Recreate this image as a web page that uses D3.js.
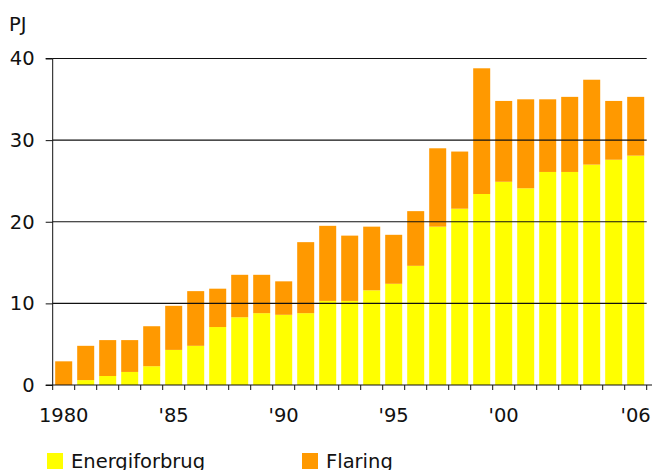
<!DOCTYPE html>
<html>
<head>
<meta charset="utf-8">
<script src="https://cdn.jsdelivr.net/npm/d3@7"></script>
<style>
  html, body { margin: 0; padding: 0; background: #fff; }
  svg { display: block; }
  text { font-family: "DejaVu Sans", Verdana, sans-serif; fill: #111; }
</style>
</head>
<body>
<svg id="chart" width="654" height="470"></svg>
<script>
const years = d3.range(1980, 2007);
const energiforbrug = [0, 0.6, 1.1, 1.6, 2.3, 4.3, 4.8, 7.1, 8.3, 8.8, 8.6, 8.8, 10.3, 10.3, 11.6, 12.4, 14.6, 19.4, 21.6, 23.4, 24.9, 24.1, 26.1, 26.1, 27.0, 27.6, 28.1];
const totals = [2.9, 4.8, 5.5, 5.5, 7.2, 9.7, 11.5, 11.8, 13.5, 13.5, 12.7, 17.5, 19.5, 18.3, 19.4, 18.4, 21.3, 29.0, 28.6, 38.8, 34.8, 35.0, 35.0, 35.3, 37.4, 34.8, 35.3];
const flaring = totals.map((t, i) => +(t - energiforbrug[i]).toFixed(1));
const yTicks = [0, 10, 20, 30, 40];
const xLabelYears = [1980, 1985, 1990, 1995, 2000, 2006];
const xLabelText = ["1980", "'85", "'90", "'95", "'00", "'06"];
const seriesNames = ["Energiforbrug", "Flaring"];
const colors = ["#ffff00", "#ff9900"];
const unitLabel = "PJ";

const svg = d3.select("#chart");
const pLeft = 52.7, pRight = 646.7, pTop = 58.5, pBottom = 385;

const x = d3.scaleBand().domain(years).range([pLeft, pRight]).paddingInner(0.227).paddingOuter(0.1135);
const y = d3.scaleLinear().domain([0, 40]).range([pBottom, pTop]);

const data = years.map((yr, i) => ({ year: yr, Energiforbrug: energiforbrug[i], Flaring: flaring[i] }));
const stack = d3.stack().keys(seriesNames)(data);

svg.append("g").selectAll("g").data(stack).join("g")
  .attr("fill", (d, i) => colors[i])
  .selectAll("rect").data(d => d).join("rect")
  .attr("x", d => x(d.data.year))
  .attr("width", x.bandwidth())
  .attr("y", d => y(d[1]))
  .attr("height", d => y(d[0]) - y(d[1]));

// gridlines on top of bars
svg.append("g").selectAll("line").data(yTicks.filter(t => t > 0)).join("line")
  .attr("x1", pLeft).attr("x2", pRight)
  .attr("y1", d => y(d)).attr("y2", d => y(d))
  .attr("stroke", "#111").attr("stroke-width", 1.1);

// y axis
const yAxis = svg.append("g").attr("transform", `translate(${pLeft},0)`)
  .call(d3.axisLeft(y).tickValues(yTicks).tickSize(7).tickPadding(11).tickFormat(d3.format("d")));
yAxis.select(".domain").attr("stroke", "#111").attr("d", `M-7,${y(40)}H0V${y(0)}`);
yAxis.selectAll(".tick line").attr("stroke", "#111");
yAxis.selectAll("text").style("font-size", "19.5px").attr("fill", "#111").style("font-family", '"DejaVu Sans", Verdana, sans-serif');

// x baseline and ticks
svg.append("line").attr("x1", pLeft - 7).attr("x2", 652).attr("y1", pBottom).attr("y2", pBottom)
  .attr("stroke", "#111").attr("stroke-width", 1.2);
const boundaries = years.map(yr => x(yr) - x.step() * x.paddingInner() / 2).concat([pRight]);
svg.append("g").selectAll("line").data(boundaries).join("line")
  .attr("x1", d => d).attr("x2", d => d)
  .attr("y1", pBottom).attr("y2", pBottom + 5)
  .attr("stroke", "#111").attr("stroke-width", 1);

svg.append("g").selectAll("text").data(xLabelYears).join("text")
  .attr("x", d => x(d) + x.bandwidth() / 2)
  .attr("y", 422)
  .attr("text-anchor", "middle")
  .style("font-size", "19.5px")
  .text((d, i) => xLabelText[i]);

svg.append("text").attr("x", 9).attr("y", 31).style("font-size", "19.5px").text(unitLabel);

// legend
const legendX = [47, 302];
const lg = svg.append("g").selectAll("g").data(seriesNames).join("g")
  .attr("transform", (d, i) => `translate(${legendX[i]},453)`);
lg.append("rect").attr("width", 16).attr("height", 16).attr("fill", (d, i) => colors[i]);
lg.append("text").attr("x", 24).attr("y", 15).style("font-size", "19.5px").text(d => d);
</script>
</body>
</html>
